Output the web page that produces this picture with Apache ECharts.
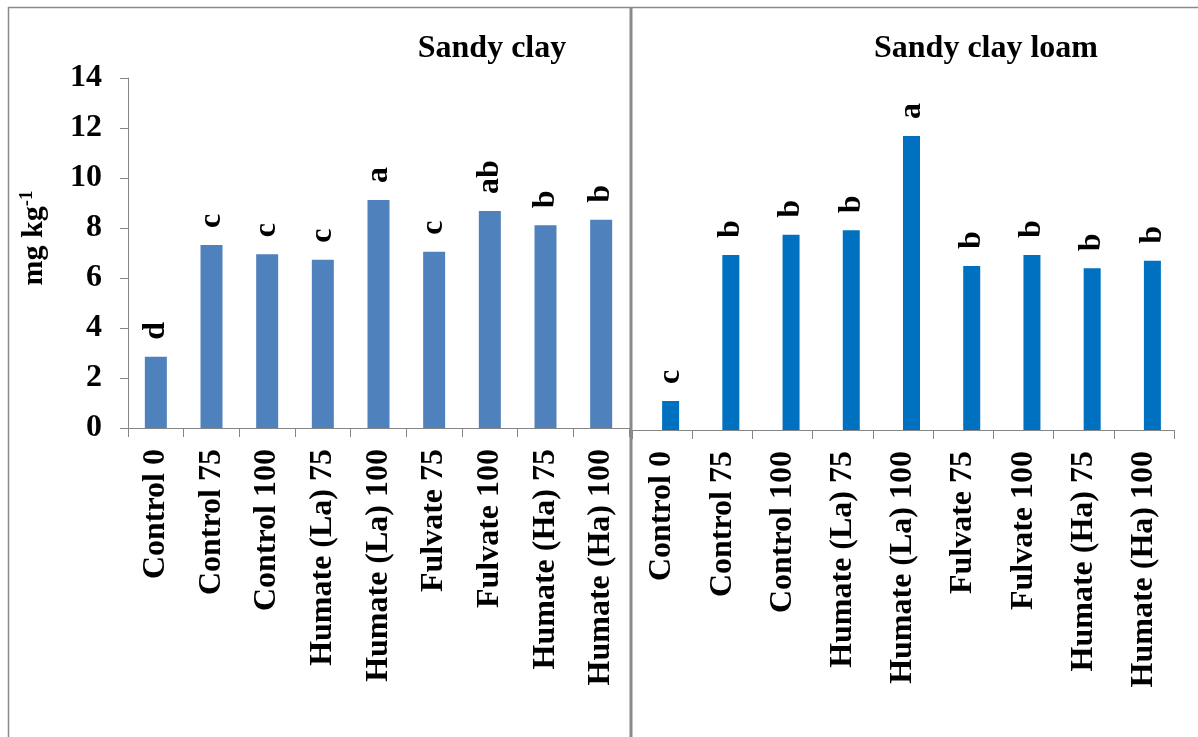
<!DOCTYPE html>
<html>
<head>
<meta charset="utf-8">
<script src="https://cdn.jsdelivr.net/npm/echarts@6/dist/echarts.min.js"></script>
<style>
  html, body { margin: 0; padding: 0; background: #fff; }
  #chart { width: 1198px; height: 737px; }
</style>
</head>
<body>
<div id="chart"></div>
<script>
// Treatments shown along both x axes
const categories = ['Control 0', 'Control 75', 'Control 100', 'Humate (La) 75', 'Humate (La) 100',
  'Fulvate 75', 'Fulvate 100', 'Humate (Ha) 75', 'Humate (Ha) 100'];

// Sandy clay soil (mg kg-1) and significance letters
const sandyClay = [2.85, 7.32, 6.95, 6.73, 9.12, 7.05, 8.68, 8.11, 8.33];
const sandyClayLetters = ['d', 'c', 'c', 'c', 'a', 'c', 'ab', 'b', 'b'];

// Sandy clay loam soil (mg kg-1) and significance letters
const sandyClayLoam = [1.16, 7.0, 7.81, 7.99, 11.76, 6.56, 7.0, 6.47, 6.77];
const sandyClayLoamLetters = ['c', 'b', 'b', 'b', 'a', 'b', 'b', 'b', 'b'];

// Empty companion slot in the clustered loam chart
const loamSpacer = categories.map(() => null);

// Value axis ticks
const yMin = 0, yMax = 14, yStep = 2;

const FONT = '"Times New Roman", "Liberation Serif", serif';
const AXIS_GREY = '#868686';
const FRAME_GREY = '#8a8a8a';

const chart = echarts.init(document.getElementById('chart'), null, { renderer: 'canvas' });

const letterLabel = (letters) => ({
  show: true,
  position: 'top',
  distance: 17,
  rotate: 90,
  align: 'left',
  verticalAlign: 'middle',
  formatter: (p) => letters[p.dataIndex],
  fontFamily: FONT,
  fontWeight: 'bold',
  fontSize: 32,
  color: '#000'
});

const catAxis = (gridIndex) => ({
  type: 'category',
  gridIndex,
  data: categories,
  axisLine: { show: true, lineStyle: { color: AXIS_GREY, width: 1 } },
  axisTick: { show: true, length: 9, lineStyle: { color: AXIS_GREY } },
  axisLabel: {
    rotate: 90, margin: 21, interval: 0,
    fontFamily: FONT, fontWeight: 'bold', fontSize: 32, color: '#000'
  },
  splitLine: { show: false }
});

chart.setOption({
  animation: false,
  backgroundColor: '#fff',
  grid: [
    { left: 128, top: 78, width: 501, height: 350 },
    { left: 632, top: 80, width: 542, height: 350 }
  ],
  xAxis: [catAxis(0), catAxis(1)],
  yAxis: [
    {
      type: 'value', gridIndex: 0, min: yMin, max: yMax, interval: yStep,
      axisLine: { show: true, lineStyle: { color: AXIS_GREY, width: 1 } },
      axisTick: { show: true, inside: false, length: 8, lineStyle: { color: AXIS_GREY } },
      axisLabel: { margin: 26, fontFamily: FONT, fontWeight: 'bold', fontSize: 32, color: '#000' },
      splitLine: { show: false }
    },
    {
      type: 'value', gridIndex: 1, min: yMin, max: yMax, interval: yStep,
      axisLine: { show: false }, axisTick: { show: false }, axisLabel: { show: false },
      splitLine: { show: false }
    }
  ],
  series: [
    {
      name: 'Sandy clay', type: 'bar', xAxisIndex: 0, yAxisIndex: 0,
      data: sandyClay, barWidth: 22,
      itemStyle: { color: '#4F81BD' },
      label: letterLabel(sandyClayLetters)
    },
    {
      name: 'spacer', type: 'bar', xAxisIndex: 1, yAxisIndex: 1,
      data: loamSpacer, barWidth: 17, barGap: '0%'
    },
    {
      name: 'Sandy clay loam', type: 'bar', xAxisIndex: 1, yAxisIndex: 1,
      data: sandyClayLoam, barWidth: 17, barGap: '0%',
      itemStyle: { color: '#0070C0' },
      label: letterLabel(sandyClayLoamLetters)
    }
  ],
  graphic: [
    // panel frame
    { type: 'line', shape: { x1: 8, y1: 7.5, x2: 1198, y2: 7.5 }, style: { stroke: FRAME_GREY, lineWidth: 1.5 }, silent: true },
    { type: 'line', shape: { x1: 8.5, y1: 7, x2: 8.5, y2: 737 }, style: { stroke: FRAME_GREY, lineWidth: 1.5 }, silent: true },
    { type: 'line', shape: { x1: 631, y1: 7, x2: 631, y2: 737 }, style: { stroke: FRAME_GREY, lineWidth: 3 }, silent: true },
    // panel titles
    { type: 'text', x: 492, y: 49, style: { text: 'Sandy clay', font: 'bold 32px ' + FONT, fill: '#000', align: 'center', verticalAlign: 'middle' } },
    { type: 'text', x: 986, y: 49, style: { text: 'Sandy clay loam', font: 'bold 32px ' + FONT, fill: '#000', align: 'center', verticalAlign: 'middle' } },
    // y axis title
    {
      type: 'text', x: 34, y: 238, rotation: Math.PI / 2,
      style: {
        text: '{b|mg kg}{s|-1}',
        align: 'center', verticalAlign: 'middle',
        rich: {
          b: { font: 'bold 30px ' + FONT, fill: '#000' },
          s: { font: 'bold 19px ' + FONT, fill: '#000', verticalAlign: 'top', padding: [0, 0, 14, 0] }
        }
      }
    }
  ]
});
</script>
</body>
</html>
